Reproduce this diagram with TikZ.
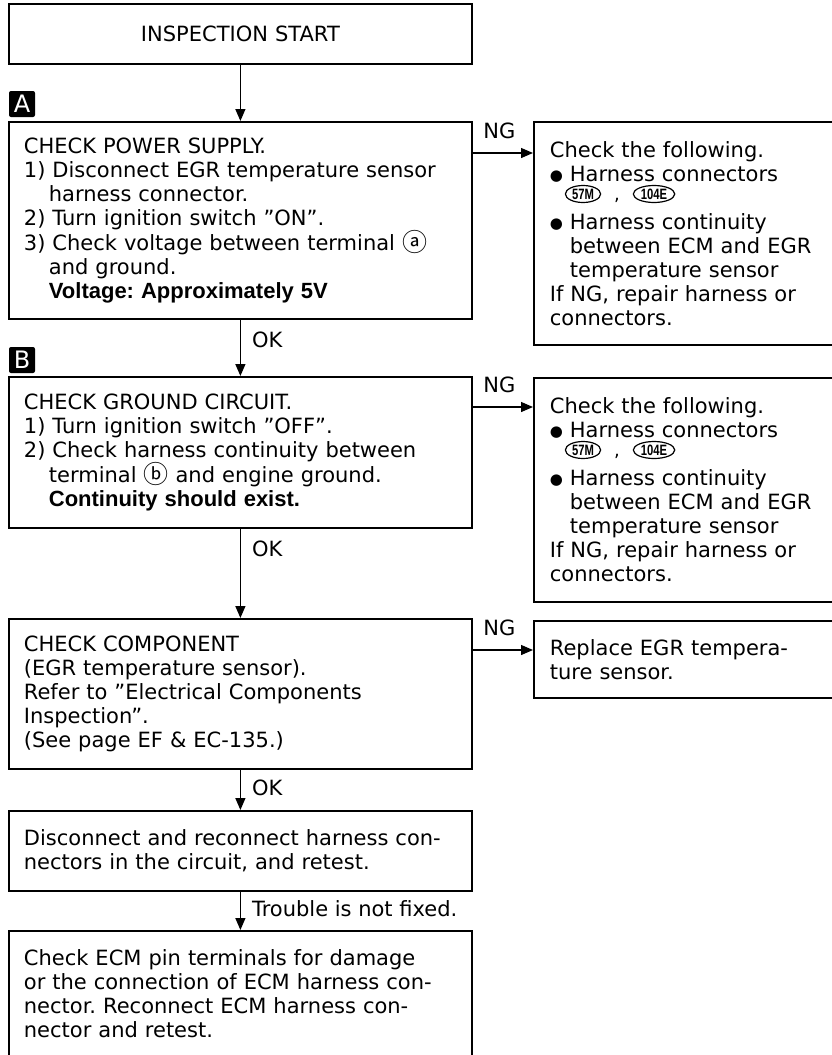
\documentclass[tikz,border=0pt]{standalone}
\usepackage{fontspec}
\setmainfont{DejaVu Sans}[BoldFont={Liberation Sans Bold}]
\newfontfamily\symfont{DejaVu Sans}
\newfontfamily\circfont{Noto Sans CJK JP}
\newfontfamily\connfont{Liberation Sans}[FakeStretch=0.75]
\usetikzlibrary{arrows.meta,shapes.geometric}

\newcommand{\boxfont}{\fontsize{21}{24}\selectfont}
\newcommand{\boldline}[1]{{\fontsize{22}{24}\selectfont\textbf{#1}}}
\newcommand{\ind}{\hspace*{25pt}}
\newcommand{\hang}{\hspace*{20pt}}
\newcommand{\bul}{\makebox[20pt][l]{\symfont\fontsize{15}{15}\selectfont\raisebox{1pt}{●}}}
\newcommand{\term}[1]{{\circfont\fontsize{25}{24}\selectfont\raisebox{-1pt}{#1}}}

\tikzset{
  flowbox/.style={draw, line width=1.8pt, anchor=north west, align=left,
    inner xsep=15pt, inner ysep=0pt, font=\boxfont},
  mainbox/.style={flowbox, text width=433pt},
  sidebox/.style={flowbox, text width=288pt, inner xsep=16pt},
  stepmark/.style={fill=black, text=white, rounded corners=2pt,
    minimum size=26pt, inner sep=0pt, font=\fontsize{24}{24}\selectfont},
  connmark/.style={ellipse, draw, line width=1.2pt, inner xsep=1.5pt, inner ysep=0pt,
    minimum height=17pt, font=\connfont\fontsize{15}{15}\selectfont\bfseries},
  lbl/.style={font=\boxfont, inner sep=0pt},
  flow/.style={line width=1.3pt, -{Triangle[length=12pt,width=10pt]}}
}

\begin{document}
\frenchspacing
\begin{tikzpicture}[x=1pt,y=-1pt]
  \useasboundingbox (0,0) rectangle (832,1055);
  \clip (0,0) rectangle (832,1055);

  \node[mainbox, align=center, minimum height=60pt] (start) at (8,3) {INSPECTION START};

  \node[stepmark] (markA) at (22,104) {A};
  \node[mainbox, minimum height=197pt] (chkpower) at (8,121) {CHECK POWER SUPPLY.\\
    1) Disconnect EGR temperature sensor\\
    \ind harness connector.\\
    2) Turn ignition switch ''ON''.\\
    3) Check voltage between terminal \term{ⓐ}\\
    \ind and ground.\\
    \ind\boldline{Voltage: Approximately 5V}};
  \node[sidebox, minimum height=223pt] (fixpower) at (533,121) {Check the following.\\
    \bul Harness connectors\\
    \mbox{}\\
    \bul Harness continuity\\
    \hang between ECM and EGR\\
    \hang temperature sensor\\
    If NG, repair harness or\\
    connectors.};
  \node[connmark] (connA1) at (583,194) {57M};
  \node[lbl, font=\fontsize{18}{18}\selectfont] (commaA) at (617,200) {,};
  \node[connmark] (connA2) at (654,194) {104E};

  \node[stepmark] (markB) at (22,360) {B};
  \node[mainbox, minimum height=151pt] (chkground) at (8,376) {CHECK GROUND CIRCUIT.\\
    1) Turn ignition switch ''OFF''.\\
    2) Check harness continuity between\\
    \ind terminal \term{ⓑ} and engine ground.\\
    \ind\boldline{Continuity should exist.}};
  \node[sidebox, minimum height=224pt] (fixground) at (533,377) {Check the following.\\
    \bul Harness connectors\\
    \mbox{}\\
    \bul Harness continuity\\
    \hang between ECM and EGR\\
    \hang temperature sensor\\
    If NG, repair harness or\\
    connectors.};
  \node[connmark] (connB1) at (583,450) {57M};
  \node[lbl, font=\fontsize{18}{18}\selectfont] (commaB) at (617,456) {,};
  \node[connmark] (connB2) at (654,450) {104E};

  \node[mainbox, minimum height=150pt] (chkcomp) at (8,618) {CHECK COMPONENT\\
    (EGR temperature sensor).\\
    Refer to ''Electrical Components\\
    Inspection''.\\
    (See page EF \& EC-135.)};
  \node[sidebox, minimum height=77pt] (replace) at (533,620) {Replace EGR tempera-\\
    ture sensor.};

  \node[mainbox, minimum height=80pt] (reconnect) at (8,810) {Disconnect and reconnect harness con-\\
    nectors in the circuit, and retest.};
  \node[mainbox, minimum height=150pt] (chkecm) at (8,930) {Check ECM pin terminals for damage\\
    or the connection of ECM harness con-\\
    nector. Reconnect ECM harness con-\\
    nector and retest.\\
    \mbox{}};

  \coordinate (ngA) at ([yshift=-32pt]chkpower.north east);
  \coordinate (ngB) at ([yshift=-31pt]chkground.north east);
  \coordinate (ngC) at ([yshift=-32pt]chkcomp.north east);

  \draw[flow] (start.south) -- (chkpower.north);
  \draw[flow] (chkpower.south) -- (chkground.north)
    node[lbl, pos=0.35, anchor=west, xshift=11pt] (okA) {OK};
  \draw[flow] (chkground.south) -- (chkcomp.north)
    node[lbl, pos=0.22, anchor=west, xshift=11pt] (okB) {OK};
  \draw[flow] (chkcomp.south) -- (reconnect.north)
    node[lbl, pos=0.45, anchor=west, xshift=11pt] (okC) {OK};
  \draw[flow] (reconnect.south) -- (chkecm.north)
    node[lbl, pos=0.45, anchor=west, xshift=11pt] (notfixed) {Trouble is not fixed.};

  \draw[flow] (ngA) -- (ngA -| fixpower.west)
    node[lbl, pos=0, anchor=base west, xshift=10pt, yshift=15pt] (ngAlbl) {NG};
  \draw[flow] (ngB) -- (ngB -| fixground.west)
    node[lbl, pos=0, anchor=base west, xshift=10pt, yshift=15pt] (ngBlbl) {NG};
  \draw[flow] (ngC) -- (ngC -| replace.west)
    node[lbl, pos=0, anchor=base west, xshift=10pt, yshift=15pt] (ngClbl) {NG};
\end{tikzpicture}
\end{document}
